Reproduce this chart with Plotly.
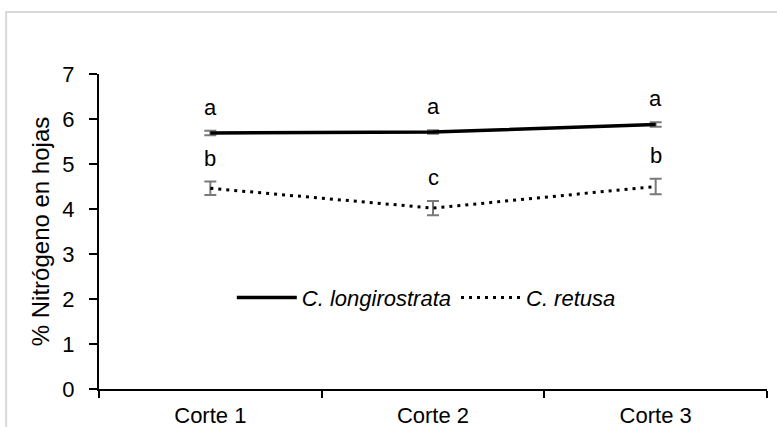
import plotly.graph_objects as go

categories = ["Corte 1", "Corte 2", "Corte 3"]
longi_vals = [5.69, 5.71, 5.88]
longi_err = [0.05, 0.04, 0.05]
longi_letters = ["a", "a", "a"]
retusa_vals = [4.46, 4.02, 4.50]
retusa_err = [0.15, 0.16, 0.17]
retusa_letters = ["b", "c", "b"]

FONT = "Liberation Sans, Arial, sans-serif"

fig = go.Figure()
fig.add_trace(go.Scatter(
    x=categories, y=longi_vals, name="C. longirostrata", mode="lines",
    line=dict(color="black", width=3.5),
    error_y=dict(type="data", array=longi_err, color="#7a7a7a", thickness=2, width=6),
))
fig.add_trace(go.Scatter(
    x=categories, y=retusa_vals, name="C. retusa", mode="lines",
    line=dict(color="black", width=3, dash="3px,5px"),
    error_y=dict(type="data", array=retusa_err, color="#7a7a7a", thickness=2, width=6),
))

for vals, errs, letters in [(longi_vals, longi_err, longi_letters), (retusa_vals, retusa_err, retusa_letters)]:
    for c, v, e, t in zip(categories, vals, errs, letters):
        fig.add_annotation(x=c, y=v + e, text=t, showarrow=False, yanchor="bottom",
                           yshift=9, font=dict(family=FONT, size=22, color="black"))

fig.add_shape(type="rect", xref="paper", yref="paper", x0=-0.139, x1=1.05, y0=-0.2, y1=1.197,
              line=dict(color="#d9d9d9", width=2), layer="below")

fig.update_layout(
    width=777, height=427,
    margin=dict(l=99, r=10, t=74, b=38),
    paper_bgcolor="white", plot_bgcolor="white",
    font=dict(family=FONT, size=22, color="black"),
    showlegend=True,
    legend=dict(orientation="h", x=0.49, y=0.29, xanchor="center", yanchor="middle",
                font=dict(family=FONT, size=22, color="black", style="italic"),
                bgcolor="rgba(0,0,0,0)", itemwidth=60, tracegroupgap=0),
    xaxis=dict(type="category", range=[-0.5, 2.5], showgrid=False, showline=True,
               linecolor="black", linewidth=2, ticks="outside", tickson="boundaries",
               ticklen=7, tickcolor="black", tickwidth=1.5, tickfont=dict(size=22),
               ticklabelstandoff=6, automargin=False),
    yaxis=dict(range=[0, 7], dtick=1, showgrid=False, showline=True, zeroline=False,
               linecolor="black", linewidth=2, ticks="outside", ticklen=8,
               tickcolor="black", tickwidth=1.5, tickfont=dict(size=22),
               ticklabelstandoff=10, automargin=False,
               title=dict(text="% Nitrógeno en hojas", font=dict(size=24), standoff=6)),
)

fig.write_html("out.html")
